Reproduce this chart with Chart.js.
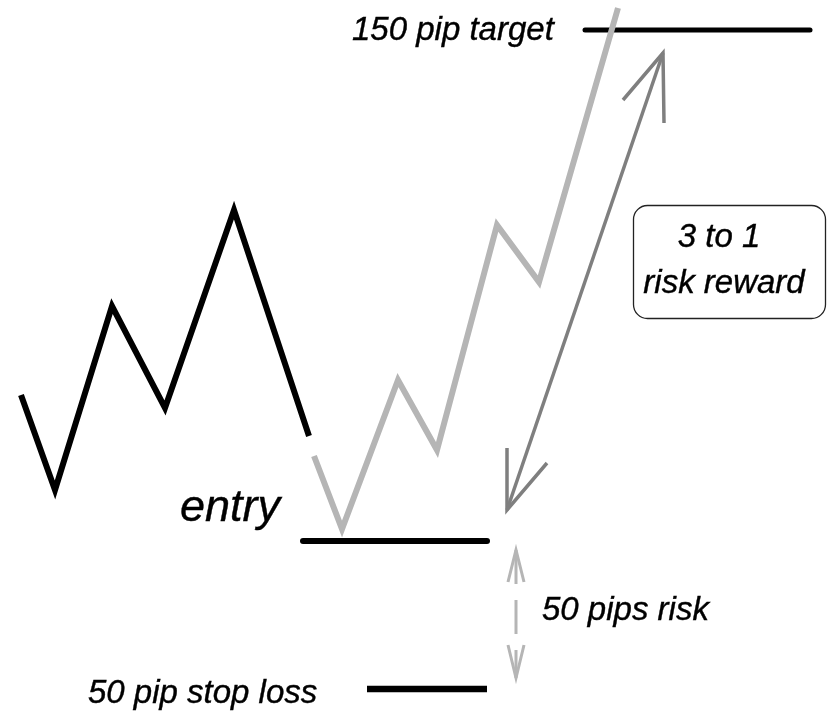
<!DOCTYPE html>
<html>
<head>
<meta charset="utf-8">
<script src="https://cdn.jsdelivr.net/npm/chart.js@4/dist/chart.umd.min.js"></script>
<style>
  html, body { margin: 0; padding: 0; background: #fff; }
  #wrap { width: 831px; height: 712px; }
</style>
</head>
<body>
<div id="wrap"><canvas id="c" width="831" height="712"></canvas></div>
<script>
// ---- Data (abstract diagram units: x = time, y = price level) ----
const priorMoveX = [21, 55, 112, 165, 234, 309];
const priorMoveY = [317, 222, 406, 304, 502, 276];

const tradeMoveX = [314, 342, 398, 437, 497, 539, 618];
const tradeMoveY = [256, 183, 332, 262, 487, 430, 704];

const targetLevel = 682;   const targetX = [585, 810];
const entryLevel = 171;    const entryX = [303, 487];
const stopLevel = 23;      const stopX = [367, 487];

// reward double arrow: tail, tip, wings
const rewardArrowX = [507, 663];
const rewardArrowY = [202, 659];
const rewardHeadTopX = [623, 663, 664];
const rewardHeadTopY = [612, 659, 589];
const rewardHeadBotX = [507, 507, 547];
const rewardHeadBotY = [264, 202, 249];

// risk dashed double arrow
const riskArrowX = [516, 516];
const riskArrowY = [162, 34];
const riskHeadTopX = [508, 516, 524];
const riskHeadTopY = [130, 162, 130];
const riskHeadBotX = [508, 516, 524];
const riskHeadBotY = [67, 34, 67];

// text labels
const labelTexts = ["150 pip target", "entry", "50 pips risk", "50 pip stop loss"];
const labelX = [352, 180, 542, 88];
const labelY = [672, 191, 92, 9];
const labelSize = [33, 45, 33, 33];

const boxLines = ["3 to 1", "risk reward"];
const boxLineX = [719, 724];
const boxLineY = [465, 419];
const boxX = [633, 825];
const boxY = [507, 394];

function pts(xs, ys) { return xs.map((x, i) => ({ x: x, y: ys[i] })); }
function hline(xs, level) { return xs.map(x => ({ x: x, y: level })); }

function lineDs(data, color, width, extra) {
  return Object.assign({
    data: data, showLine: true, borderColor: color, backgroundColor: color,
    borderWidth: width, pointRadius: 0, pointHoverRadius: 0, tension: 0,
    borderJoinStyle: 'miter', borderCapStyle: 'butt', fill: false
  }, extra || {});
}

const DARK = '#7f7f7f';
const LIGHT = '#b5b5b5';

const annotations = {
  id: 'annotations',
  afterDatasetsDraw(chart) {
    const ctx = chart.ctx;
    const xs = chart.scales.x, ys = chart.scales.y;
    ctx.save();
    // rounded box
    const bx0 = xs.getPixelForValue(boxX[0]), bx1 = xs.getPixelForValue(boxX[1]);
    const by0 = ys.getPixelForValue(boxY[0]), by1 = ys.getPixelForValue(boxY[1]);
    ctx.beginPath();
    ctx.roundRect(bx0 + 0.5, by0 + 0.5, bx1 - bx0, by1 - by0, 14);
    ctx.lineWidth = 1.3;
    ctx.strokeStyle = '#222';
    ctx.stroke();

    ctx.fillStyle = '#000';
    ctx.strokeStyle = '#000';
    ctx.lineWidth = 0.4;
    ctx.textBaseline = 'alphabetic';
    ctx.textAlign = 'left';
    labelTexts.forEach((t, i) => {
      ctx.font = 'italic ' + labelSize[i] + 'px "Liberation Sans", Arial, sans-serif';
      const px = xs.getPixelForValue(labelX[i]), py = ys.getPixelForValue(labelY[i]);
      ctx.fillText(t, px, py);
      ctx.strokeText(t, px, py);
    });
    ctx.textAlign = 'center';
    ctx.font = 'italic 33px "Liberation Sans", Arial, sans-serif';
    boxLines.forEach((t, i) => {
      const px = xs.getPixelForValue(boxLineX[i]), py = ys.getPixelForValue(boxLineY[i]);
      ctx.fillText(t, px, py);
      ctx.strokeText(t, px, py);
    });
    ctx.restore();
  }
};

new Chart(document.getElementById('c'), {
  type: 'scatter',
  data: {
    datasets: [
      lineDs(pts(priorMoveX, priorMoveY), '#000', 6),
      lineDs(pts(tradeMoveX, tradeMoveY), LIGHT, 6),
      lineDs(hline(targetX, targetLevel), '#000', 5, { borderCapStyle: 'round' }),
      lineDs(hline(entryX, entryLevel), '#000', 6, { borderCapStyle: 'round' }),
      lineDs(hline(stopX, stopLevel), '#000', 6.5),
      lineDs(pts(rewardArrowX, rewardArrowY), DARK, 3.5),
      lineDs(pts(rewardHeadTopX, rewardHeadTopY), DARK, 3.5),
      lineDs(pts(rewardHeadBotX, rewardHeadBotY), DARK, 3.5),
      lineDs(pts(riskArrowX, riskArrowY), LIGHT, 3, { borderDash: [34, 16], borderDashOffset: 0 }),
      lineDs(pts(riskHeadTopX, riskHeadTopY), LIGHT, 3),
      lineDs(pts(riskHeadBotX, riskHeadBotY), LIGHT, 3)
    ]
  },
  options: {
    responsive: false,
    animation: false,
    devicePixelRatio: 1,
    layout: { padding: 0 },
    plugins: { legend: { display: false }, tooltip: { enabled: false } },
    events: [],
    scales: {
      x: { type: 'linear', min: 0, max: 831, display: false },
      y: { type: 'linear', min: 0, max: 712, display: false }
    }
  },
  plugins: [annotations]
});
</script>
</body>
</html>
